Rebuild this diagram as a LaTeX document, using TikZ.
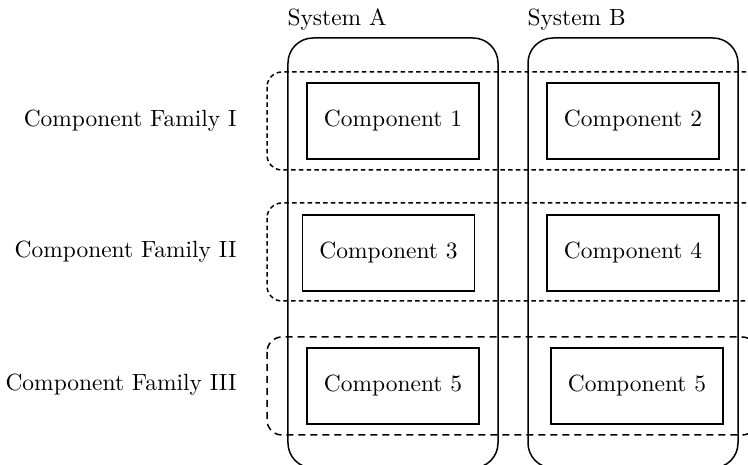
\documentclass[tikz,border=0pt]{standalone}
\newcommand\sctxt[1]{\scalebox{0.938}{#1}}
\begin{document}
\begin{tikzpicture}[x=0.4pt,y=-0.4pt,
  sysbox/.style={draw,semithick,rounded corners=10pt,inner sep=0pt,minimum width=84pt,minimum height=172pt},
  compbox/.style={draw,semithick,inner sep=0pt,minimum width=68.8pt,minimum height=30.4pt},
  famrow/.style={draw,semithick,rounded corners=6pt,dash pattern=on 1.8pt off 1.3pt},
  famrowb/.style={draw,semithick,rounded corners=6pt,dash pattern=on 2.8pt off 2pt},
  famlabel/.style={anchor=east,inner sep=0pt},
  syslabel/.style={anchor=base west,inner sep=0pt}]
\useasboundingbox (0,0) rectangle (748,465);
\clip (0,0) rectangle (748,465);
% systems
\node[sysbox] (sysA) at (393,253) {};
\node[sysbox] (sysB) at (633,253) {};
\node[syslabel] (labA) at (287,26) {\sctxt{System A}};
\node[syslabel] (labB) at (527,26) {\sctxt{System B}};
% family rows
\draw[famrow] (267,72) rectangle (790,170);
\draw[famrow] (267,203) rectangle (790,301);
\draw[famrowb] (267,337) rectangle (757,435);
\node[famlabel] (famI) at (237,121) {\sctxt{Component Family I}};
\node[famlabel] (famII) at (237,252) {\sctxt{Component Family II}};
\node[famlabel] (famIII) at (237,385) {\sctxt{Component Family III}};
% components
\node[compbox] (c1) at (393,121) {\sctxt{Component 1}};
\node[compbox] (c2) at (633,121) {\sctxt{Component 2}};
\node[compbox] (c3) at (388.5,253) {\sctxt{Component 3}};
\node[compbox] (c4) at (633,253) {\sctxt{Component 4}};
\node[compbox] (c5a) at (393,386) {\sctxt{Component 5}};
\node[compbox] (c5b) at (637,386) {\sctxt{Component 5}};
\end{tikzpicture}
\end{document}
